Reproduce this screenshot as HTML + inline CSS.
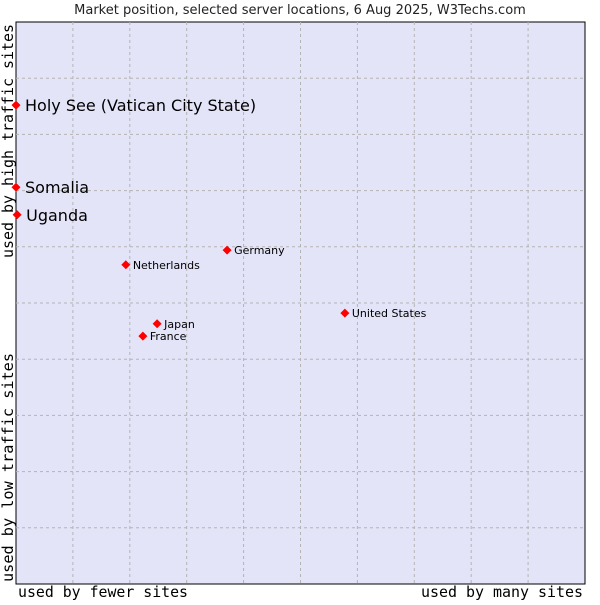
<!DOCTYPE html>
<html><head><meta charset="utf-8"><style>
body{margin:0;background:#fff;width:600px;height:600px;overflow:hidden}
</style></head><body>
<svg width="600" height="600" xmlns="http://www.w3.org/2000/svg">
<text x="300" y="14" text-anchor="middle" font-family="DejaVu Sans, sans-serif" font-size="13" fill="#222">Market position, selected server locations, 6 Aug 2025, W3Techs.com</text>
<rect x="16" y="22" width="569" height="562" fill="#e3e4f8" stroke="#000" stroke-width="1"/>
<g id="grid"></g>
<g id="pts"></g>
<text x="18" y="597" textLength="170" lengthAdjust="spacingAndGlyphs" font-family="DejaVu Sans Mono, monospace" font-size="15" fill="#000">used by fewer sites</text>
<text x="421" y="597" textLength="162" lengthAdjust="spacingAndGlyphs" font-family="DejaVu Sans Mono, monospace" font-size="15" fill="#000">used by many sites</text>
<text transform="translate(13,582) rotate(-90)" textLength="229" lengthAdjust="spacingAndGlyphs" font-family="DejaVu Sans Mono, monospace" font-size="15" fill="#000">used by low traffic sites</text>
<text transform="translate(13,258) rotate(-90)" textLength="234" lengthAdjust="spacingAndGlyphs" font-family="DejaVu Sans Mono, monospace" font-size="15" fill="#000">used by high traffic sites</text>
</svg>
<script>
const names=["Holy See (Vatican City State)","Somalia","Uganda","Germany","Netherlands","United States","Japan","France"];
const xVals=[0,0,0.2,37.1,19.3,57.8,24.8,22.3];
const yVals=[85.2,70.6,65.7,59.4,56.8,48.2,46.3,44.1];
const big=[true,true,true,false,false,false,false,false];
const NS="http://www.w3.org/2000/svg";
const L=16,T=22,W=569,H=562;
const sx=v=>L+v/100*W, sy=v=>T+H-v/100*H;
const grid=document.getElementById('grid');
for(let i=1;i<10;i++){
 const a=document.createElementNS(NS,'line');
 a.setAttribute('x1',sx(i*10));a.setAttribute('x2',sx(i*10));a.setAttribute('y1',T);a.setAttribute('y2',T+H);
 a.setAttribute('stroke','#b4b4b4');a.setAttribute('stroke-dasharray','3,3');
 
 
 grid.appendChild(a);
 const b=document.createElementNS(NS,'line');
 b.setAttribute('y1',sy(i*10));b.setAttribute('y2',sy(i*10));b.setAttribute('x1',L);b.setAttribute('x2',L+W);
 b.setAttribute('stroke','#b4b4b4');b.setAttribute('stroke-dasharray','3,3');
 
 
 grid.appendChild(b);
}
const pts=document.getElementById('pts');
names.forEach((n,i)=>{
 const x=sx(xVals[i]),y=sy(yVals[i]);
 const p=document.createElementNS(NS,'polygon');
 p.setAttribute('points',`${x},${y-4.5} ${x+4.5},${y} ${x},${y+4.5} ${x-4.5},${y}`);
 p.setAttribute('fill','#f00');
 
 
 pts.appendChild(p);
 const t=document.createElementNS(NS,'text');
 t.setAttribute('x',x+(big[i]?9:7));t.setAttribute('y',y+(big[i]?6:4));
 t.setAttribute('font-family','DejaVu Sans, sans-serif');
 t.setAttribute('font-size',big[i]?16:11);
 t.setAttribute('fill','#000');
 t.textContent=n;
 
 
 pts.appendChild(t);
});
</script>
</body></html>
